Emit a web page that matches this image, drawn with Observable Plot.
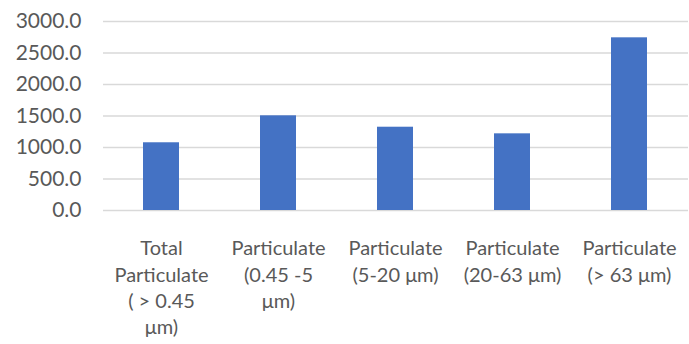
<!DOCTYPE html>
<html>
<head>
<meta charset="utf-8">
<script src="https://cdn.jsdelivr.net/npm/d3@7"></script>
<script src="https://cdn.jsdelivr.net/npm/@observablehq/plot@0.6"></script>
<style>
  html, body { margin: 0; padding: 0; background: #ffffff; }
</style>
</head>
<body>
<div id="chart"></div>
<script>
// Particulate load by size fraction
const categories = [
  "Total\nParticulate\n( > 0.45\nμm)",
  "Particulate\n(0.45 -5\nμm)",
  "Particulate\n(5-20 μm)",
  "Particulate\n(20-63 μm)",
  "Particulate\n(> 63 μm)"
];
const values = [1075, 1503, 1322, 1217, 2741];
const yTicks = [0, 500, 1000, 1500, 2000, 2500, 3000];

const data = categories.map((c, i) => ({category: c, value: values[i]}));

const chart = Plot.plot({
  width: 689,
  height: 344,
  marginTop: 21,
  marginBottom: 134,
  marginLeft: 103,
  marginRight: 1,
  style: {
    fontFamily: "Lato, 'Open Sans', sans-serif",
    fontSize: "20px",
    color: "#595959",
    background: "#ffffff"
  },
  x: {domain: categories, paddingInner: 0.69, paddingOuter: 0.345, label: null},
  y: {domain: [0, 3000], label: null},
  marks: [
    Plot.gridY(yTicks, {stroke: "#d9d9d9", strokeOpacity: 1, strokeWidth: 1.5}),
    Plot.barY(data, {x: "category", y: "value", fill: "#4472c4"}),
    Plot.axisY(yTicks, {
      tickSize: 0,
      tickPadding: 22,
      tickFormat: d => d.toFixed(1),
      fontSize: 21,
      label: null
    }),
    Plot.axisX({
      tickSize: 0,
      tickPadding: 26,
      lineHeight: 1.32,
      fontSize: 20,
      label: null
    })
  ]
});

document.getElementById("chart").appendChild(chart);
</script>
</body>
</html>
